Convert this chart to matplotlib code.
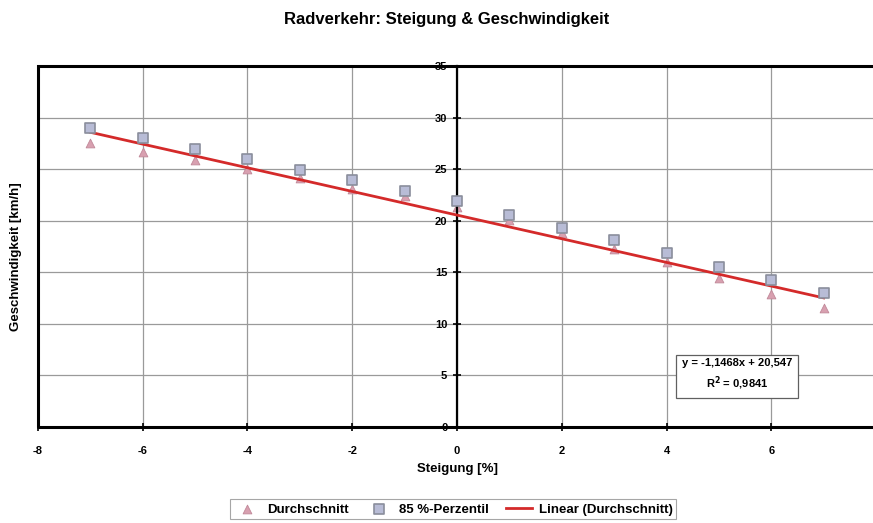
import matplotlib.pyplot as plt
import matplotlib.patches as patches
import numpy as np

plt.rcParams['font.family'] = ['Liberation Sans', 'DejaVu Sans']
plt.rcParams['font.weight'] = 'bold'

steigung = [-7, -6, -5, -4, -3, -2, -1, 0, 1, 2, 3, 4, 5, 6, 7]
durchschnitt = [27.5, 26.7, 25.9, 25.0, 24.1, 23.1, 22.4, 21.3, 20.1, 18.8, 17.3, 16.0, 14.4, 12.9, 11.5]
perzentil85 = [29.0, 28.0, 27.0, 26.0, 24.9, 23.9, 22.9, 21.9, 20.6, 19.3, 18.1, 16.9, 15.5, 14.3, 13.0]
slope = -1.1468
intercept = 20.547
r2 = 0.9841

xticks = [-8, -6, -4, -2, 0, 2, 4, 6, 8]
yticks = [0, 5, 10, 15, 20, 25, 30, 35]

fig = plt.figure(figsize=(8.73, 5.23), dpi=100)
ax = fig.add_axes([0.0435, 0.1835, 0.96, 0.6903])

ax.grid(True, color='#9a9a9a', lw=0.9)
ax.set_axisbelow(True)

x = np.array(steigung)
ax.plot(x, slope * x + intercept, color='#d42a2a', lw=2, zorder=3, label='Linear (Durchschnitt)')
ax.scatter(steigung, durchschnitt, marker='^', s=40, color='#d8a0b0', edgecolors='#c08898',
           linewidths=0.6, zorder=2, label='Durchschnitt')
ax.scatter(steigung, perzentil85, marker='s', s=50, color='#b8bcd6', edgecolors='#8a8e9c',
           linewidths=1.2, zorder=4, label='85 %-Perzentil')

ax.set_xlim(-8, 8)
ax.set_ylim(0, 35)
ax.set_xticks(xticks)
ax.set_yticks(yticks)
ax.set_xticklabels([str(t) for t in xticks])
ax.set_yticklabels([str(t) for t in yticks])

# y axis crosses at x = 0, box border drawn separately
ax.spines['left'].set_position(('data', 0))
ax.spines['left'].set_linewidth(1.6)
ax.spines['bottom'].set_linewidth(1.8)
ax.spines['top'].set_visible(False)
ax.spines['right'].set_visible(False)
ax.add_patch(patches.Rectangle((0, 0), 1, 1, transform=ax.transAxes, fill=False,
                               edgecolor='black', lw=2.2, clip_on=False, zorder=5))
ax.tick_params(axis='y', direction='inout', length=6, width=1.2, labelsize=8, pad=4)
ax.tick_params(axis='x', direction='inout', length=6, width=1.2, labelsize=8, pad=11)

ax.set_xlabel('Steigung [%]', fontsize=9.5, fontweight='bold', labelpad=5)
fig.text(0.018, 0.51, 'Geschwindigkeit [km/h]', rotation=90, fontsize=9.5,
         fontweight='bold', ha='center', va='center')
fig.suptitle('Radverkehr: Steigung & Geschwindigkeit', x=0.512, y=0.978,
             fontsize=12, fontweight='bold')

eq = 'y = -1,1468x + 20,547\nR$^2$ = 0,9841'
ax.text(0.834, 0.144, eq, transform=ax.transAxes, ha='center', va='center',
        fontsize=8, fontweight='bold', linespacing=1.5,
        bbox=dict(boxstyle='square,pad=0.5', facecolor='white', edgecolor='#606060', lw=0.9))

handles, labels = ax.get_legend_handles_labels()
order = [1, 2, 0]
leg = fig.legend([handles[i] for i in order], [labels[i] for i in order],
                 loc='center', bbox_to_anchor=(0.519, 0.026), ncol=3, fontsize=9.5,
                 frameon=True, fancybox=False, edgecolor='#909090', handlelength=2.0,
                 handletextpad=0.5, columnspacing=1.3, borderpad=0.3)
leg.get_frame().set_linewidth(0.8)

fig.savefig('out.png', dpi=100)
